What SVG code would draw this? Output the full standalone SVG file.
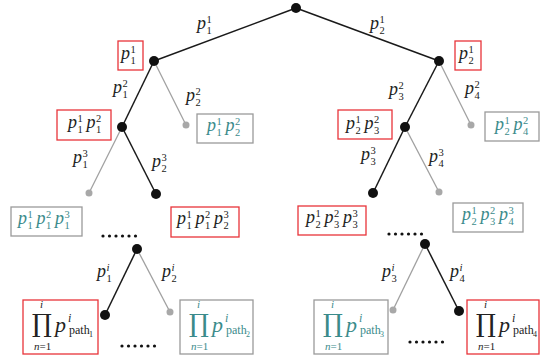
<svg xmlns="http://www.w3.org/2000/svg" width="541" height="361" viewBox="0 0 541 361">
<style>
.m,.m tspan{font-family:"Liberation Serif","Times New Roman","DejaVu Serif",serif}
.m{font-size:18px;font-style:italic;fill:#222}
.s{font-size:10.5px;font-style:normal}
.si{font-size:11px;font-style:italic}
.rb{fill:#fff;stroke:#e8343a;stroke-width:1.3}
.gb{fill:#fff;stroke:#9a9a9a;stroke-width:1.3}
.bl{stroke:#1a1a1a;stroke-width:1.5;fill:none}
.gl{stroke:#a0a0a0;stroke-width:1.3;fill:none}
.bn{fill:#111}
.gn{fill:#a8a8a8}
.pr{font-family:"DejaVu Serif","Liberation Serif",serif;font-style:normal;font-size:25px;fill:#222}
.lim{font-size:11px;font-style:normal}
.pp{font-size:22px}
.ps{font-size:12px}
.pss{font-size:8px;font-style:normal}
.teal{fill:#3b8b8b}
</style>
<defs>
<g id="dots"><circle cx="0" cy="0" r="1.6"/><circle cx="6.5" cy="0" r="1.6"/><circle cx="13" cy="0" r="1.6"/><circle cx="19.5" cy="0" r="1.6"/><circle cx="26" cy="0" r="1.6"/><circle cx="32.5" cy="0" r="1.6"/></g>
</defs>
<g id="connectors">
<line class="bl" x1="296" y1="8" x2="154" y2="61"/>
<line class="bl" x1="296" y1="8" x2="439" y2="61"/>
<line class="bl" x1="154" y1="61" x2="122" y2="127"/>
<line class="gl" x1="154" y1="61" x2="186" y2="125"/>
<line class="bl" x1="439" y1="61" x2="405" y2="127"/>
<line class="gl" x1="439" y1="61" x2="471" y2="125"/>
<line class="gl" x1="122" y1="127" x2="89" y2="193"/>
<line class="bl" x1="122" y1="127" x2="156" y2="194"/>
<line class="bl" x1="405" y1="127" x2="373" y2="193"/>
<line class="gl" x1="405" y1="127" x2="439" y2="192"/>
<line class="bl" x1="137" y1="249" x2="105" y2="315"/>
<line class="gl" x1="137" y1="249" x2="170" y2="312"/>
<line class="gl" x1="425" y1="244" x2="393" y2="310"/>
<line class="bl" x1="425" y1="244" x2="459" y2="311"/>
<g id="edge-labels" class="m">
<text class="m" x="197" y="29">p<tspan class="s" x="206.5" y="23">1</tspan><tspan class="s" x="206.5" y="34">1</tspan></text>
<text class="m" x="370" y="29">p<tspan class="s" x="379.5" y="23">1</tspan><tspan class="s" x="379.5" y="34">2</tspan></text>
<text class="m" x="113" y="93">p<tspan class="s" x="122.5" y="87">2</tspan><tspan class="s" x="122.5" y="98">1</tspan></text>
<text class="m" x="186" y="101">p<tspan class="s" x="195.5" y="95">2</tspan><tspan class="s" x="195.5" y="106">2</tspan></text>
<text class="m" x="389" y="95">p<tspan class="s" x="398.5" y="89">2</tspan><tspan class="s" x="398.5" y="100">3</tspan></text>
<text class="m" x="465" y="94">p<tspan class="s" x="474.5" y="88">2</tspan><tspan class="s" x="474.5" y="99">4</tspan></text>
<text class="m" x="73" y="163">p<tspan class="s" x="82.5" y="157">3</tspan><tspan class="s" x="82.5" y="168">1</tspan></text>
<text class="m" x="152" y="167">p<tspan class="s" x="161.5" y="161">3</tspan><tspan class="s" x="161.5" y="172">2</tspan></text>
<text class="m" x="361" y="160">p<tspan class="s" x="370.5" y="154">3</tspan><tspan class="s" x="370.5" y="165">3</tspan></text>
<text class="m" x="429" y="162">p<tspan class="s" x="438.5" y="156">3</tspan><tspan class="s" x="438.5" y="167">4</tspan></text>
<text class="m" x="97" y="277">p<tspan class="si" x="106.5" y="271">i</tspan><tspan class="s" x="106.5" y="282">1</tspan></text>
<text class="m" x="162" y="277">p<tspan class="si" x="171.5" y="271">i</tspan><tspan class="s" x="171.5" y="282">2</tspan></text>
<text class="m" x="382" y="277">p<tspan class="si" x="391.5" y="271">i</tspan><tspan class="s" x="391.5" y="282">3</tspan></text>
<text class="m" x="450" y="277">p<tspan class="si" x="459.5" y="271">i</tspan><tspan class="s" x="459.5" y="282">4</tspan></text>
</g>
</g>
<g id="n-root"><circle class="bn" cx="296" cy="8" r="5"/></g>
<g id="n-L1"><circle class="bn" cx="154" cy="61" r="5"/><rect class="rb" x="118" y="41" width="25" height="29"/>
<text class="m" x="121" y="59">p<tspan class="s" x="130.5" y="53">1</tspan><tspan class="s" x="130.5" y="64">1</tspan></text></g>
<g id="n-R1"><circle class="bn" cx="439" cy="61" r="5"/><rect class="rb" x="455" y="41" width="26" height="29"/>
<text class="m" x="459" y="59">p<tspan class="s" x="468.5" y="53">1</tspan><tspan class="s" x="468.5" y="64">2</tspan></text></g>
<g id="n-L2"><circle class="bn" cx="122" cy="127" r="5"/><rect class="rb" x="57" y="110" width="54" height="30"/>
<text class="m" x="68" y="128">p<tspan class="s" x="77.5" y="122">1</tspan><tspan class="s" x="77.5" y="133">1</tspan><tspan x="86.5" y="128">p</tspan><tspan class="s" x="96" y="122">2</tspan><tspan class="s" x="96" y="133">1</tspan></text></g>
<g id="n-L2g"><circle class="gn" cx="186" cy="125" r="3.5"/><rect class="gb" x="197" y="114" width="56" height="29"/>
<text class="m teal" x="207" y="131">p<tspan class="s" x="216.5" y="125">1</tspan><tspan class="s" x="216.5" y="136">1</tspan><tspan x="225.5" y="131">p</tspan><tspan class="s" x="235" y="125">2</tspan><tspan class="s" x="235" y="136">2</tspan></text></g>
<g id="n-R2"><circle class="bn" cx="405" cy="127" r="5"/><rect class="rb" x="338" y="110" width="54" height="29"/>
<text class="m" x="346" y="129">p<tspan class="s" x="355.5" y="123">1</tspan><tspan class="s" x="355.5" y="134">2</tspan><tspan x="364.5" y="129">p</tspan><tspan class="s" x="374" y="123">2</tspan><tspan class="s" x="374" y="134">3</tspan></text></g>
<g id="n-R2g"><circle class="gn" cx="471" cy="125" r="3.5"/><rect class="gb" x="485" y="112" width="54" height="29"/>
<text class="m teal" x="495" y="130">p<tspan class="s" x="504.5" y="124">1</tspan><tspan class="s" x="504.5" y="135">2</tspan><tspan x="513.5" y="130">p</tspan><tspan class="s" x="523" y="124">2</tspan><tspan class="s" x="523" y="135">4</tspan></text></g>
<g id="n-L3g"><circle class="gn" cx="89" cy="193" r="3.5"/><rect class="gb" x="11" y="207" width="71" height="29"/>
<text class="m teal" x="18" y="224">p<tspan class="s" x="27.5" y="218">1</tspan><tspan class="s" x="27.5" y="229">1</tspan><tspan x="36.5" y="224">p</tspan><tspan class="s" x="46" y="218">2</tspan><tspan class="s" x="46" y="229">1</tspan><tspan x="55" y="224">p</tspan><tspan class="s" x="64.5" y="218">3</tspan><tspan class="s" x="64.5" y="229">1</tspan></text></g>
<g id="n-L3"><circle class="bn" cx="156" cy="194" r="5"/><rect class="rb" x="171" y="207" width="68" height="30"/>
<text class="m" x="177" y="224">p<tspan class="s" x="186.5" y="218">1</tspan><tspan class="s" x="186.5" y="229">1</tspan><tspan x="195.5" y="224">p</tspan><tspan class="s" x="205" y="218">2</tspan><tspan class="s" x="205" y="229">1</tspan><tspan x="214" y="224">p</tspan><tspan class="s" x="223.5" y="218">3</tspan><tspan class="s" x="223.5" y="229">2</tspan></text></g>
<g id="n-R3"><circle class="bn" cx="373" cy="193" r="5"/><rect class="rb" x="298" y="206" width="68" height="29"/>
<text class="m" x="306" y="223">p<tspan class="s" x="315.5" y="217">1</tspan><tspan class="s" x="315.5" y="228">2</tspan><tspan x="324.5" y="223">p</tspan><tspan class="s" x="334" y="217">2</tspan><tspan class="s" x="334" y="228">3</tspan><tspan x="343" y="223">p</tspan><tspan class="s" x="352.5" y="217">3</tspan><tspan class="s" x="352.5" y="228">3</tspan></text></g>
<g id="n-R3g"><circle class="gn" cx="439" cy="192" r="3.5"/><rect class="gb" x="453" y="203" width="70" height="29"/>
<text class="m teal" x="462" y="220">p<tspan class="s" x="471.5" y="214">1</tspan><tspan class="s" x="471.5" y="225">2</tspan><tspan x="480.5" y="220">p</tspan><tspan class="s" x="490" y="214">2</tspan><tspan class="s" x="490" y="225">3</tspan><tspan x="499" y="220">p</tspan><tspan class="s" x="508.5" y="214">3</tspan><tspan class="s" x="508.5" y="225">4</tspan></text></g>
<g id="ellipses" fill="#111">
<use href="#dots" x="103" y="236"/>
<use href="#dots" x="122" y="346"/>
<use href="#dots" x="389" y="234"/>
<use href="#dots" x="410" y="342"/>
</g>
<g id="n-L4"><circle class="bn" cx="137" cy="249" r="5"/></g>
<g id="n-R4"><circle class="bn" cx="425" cy="244" r="5"/></g>
<g id="n-L5"><circle class="bn" cx="105" cy="315" r="5"/><rect class="rb" x="23" y="300" width="75" height="54"/>
<text class="pr" x="32" y="332" textLength="20" lengthAdjust="spacingAndGlyphs">∏</text>
<text class="m"><tspan class="si" x="40" y="308">i</tspan><tspan class="si" x="34" y="350">n</tspan><tspan class="lim">=1</tspan><tspan class="pp" x="55" y="332">p</tspan><tspan class="ps" x="68" y="322">i</tspan><tspan class="ps" style="font-style:normal" x="69" y="334">path</tspan><tspan class="pss" x="89" y="337">1</tspan></text></g>
<g id="n-L5g"><circle class="gn" cx="170" cy="312" r="3.5"/><rect class="gb" x="180" y="300" width="73" height="54"/>
<text class="pr teal" x="189" y="332" textLength="20" lengthAdjust="spacingAndGlyphs">∏</text>
<text class="m teal"><tspan class="si" x="197" y="308">i</tspan><tspan class="si" x="191" y="350">n</tspan><tspan class="lim">=1</tspan><tspan class="pp" x="212" y="332">p</tspan><tspan class="ps" x="225" y="322">i</tspan><tspan class="ps" style="font-style:normal" x="226" y="334">path</tspan><tspan class="pss" x="246" y="337">2</tspan></text></g>
<g id="n-R5g"><circle class="gn" cx="393" cy="310" r="3.5"/><rect class="gb" x="314" y="300" width="74" height="54"/>
<text class="pr teal" x="323" y="332" textLength="20" lengthAdjust="spacingAndGlyphs">∏</text>
<text class="m teal"><tspan class="si" x="331" y="308">i</tspan><tspan class="si" x="325" y="350">n</tspan><tspan class="lim">=1</tspan><tspan class="pp" x="346" y="332">p</tspan><tspan class="ps" x="359" y="322">i</tspan><tspan class="ps" style="font-style:normal" x="360" y="334">path</tspan><tspan class="pss" x="380" y="337">3</tspan></text></g>
<g id="n-R5"><circle class="bn" cx="459" cy="311" r="5"/><rect class="rb" x="467" y="300" width="72" height="54"/>
<text class="pr" x="476" y="332" textLength="20" lengthAdjust="spacingAndGlyphs">∏</text>
<text class="m"><tspan class="si" x="484" y="308">i</tspan><tspan class="si" x="478" y="350">n</tspan><tspan class="lim">=1</tspan><tspan class="pp" x="499" y="332">p</tspan><tspan class="ps" x="512" y="322">i</tspan><tspan class="ps" style="font-style:normal" x="513" y="334">path</tspan><tspan class="pss" x="533" y="337">4</tspan></text></g>
</svg>
